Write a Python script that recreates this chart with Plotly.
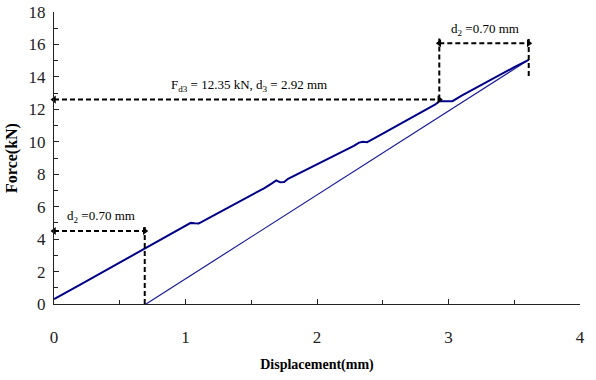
import plotly.graph_objects as go

# Loading curve (displacement mm, force kN)
load_x = [0.0, 0.05, 0.1, 0.2, 0.3, 0.4, 0.5, 0.6, 0.7, 0.8, 0.9, 1.0, 1.04, 1.07, 1.1, 1.12,
          1.2, 1.3, 1.4, 1.5, 1.6, 1.66, 1.69, 1.72, 1.75, 1.78, 1.9, 2.0, 2.1, 2.2, 2.28,
          2.32, 2.35, 2.38, 2.4, 2.5, 2.6, 2.7, 2.8, 2.9, 2.93, 2.98, 3.03, 3.1, 3.2, 3.3,
          3.4, 3.5, 3.61]
load_y = [0.3, 0.55, 0.75, 1.2, 1.65, 2.1, 2.55, 3.0, 3.45, 3.9, 4.35, 4.8, 5.0, 4.98, 4.97, 5.05,
          5.4, 5.8, 6.25, 6.7, 7.15, 7.45, 7.62, 7.5, 7.52, 7.72, 8.2, 8.6, 9.0, 9.4, 9.75,
          9.95, 10.0, 9.97, 10.05, 10.5, 10.95, 11.4, 11.85, 12.3, 12.5, 12.5, 12.5, 12.85, 13.3, 13.75,
          14.2, 14.6, 15.05]

# Unloading line
unload_x = [0.70, 3.61]
unload_y = [0.0, 15.05]

x_ticks = [0, 1, 2, 3, 4]
y_ticks = [0, 2, 4, 6, 8, 10, 12, 14, 16, 18]

FONT = "Liberation Serif"
DASH = "5px,3px"

fig = go.Figure()
fig.add_trace(go.Scatter(x=unload_x, y=unload_y, mode="lines",
                         line=dict(color="#1a1a9a", width=1.2), hoverinfo="skip"))
fig.add_trace(go.Scatter(x=load_x, y=load_y, mode="lines",
                         line=dict(color="#000088", width=2), hoverinfo="skip"))

# Dimension lines (dashed) with arrowheads
def hline(x0, x1, y):
    fig.add_trace(go.Scatter(x=[x0, x1], y=[y, y], mode="lines",
                             line=dict(color="black", width=2, dash=DASH), hoverinfo="skip"))
    fig.add_trace(go.Scatter(x=[x0, x1], y=[y, y], mode="markers",
                             marker=dict(symbol=["triangle-left", "triangle-right"], size=7,
                                         color="black"), hoverinfo="skip", cliponaxis=False))

def vline(x, y0, y1):
    fig.add_trace(go.Scatter(x=[x, x], y=[y0, y1], mode="lines",
                             line=dict(color="black", width=2, dash=DASH), hoverinfo="skip"))

hline(0.0, 0.69, 4.5)
vline(0.69, 0.0, 4.85)
hline(0.0, 2.93, 12.6)
vline(2.93, 12.6, 16.45)
hline(2.93, 3.61, 16.07)
vline(3.61, 14.05, 16.45)

ann_font = dict(family=FONT, size=13, color="black")
fig.add_annotation(x=0.36, y=5.4, text="d<sub>2</sub> =0.70 mm", showarrow=False, font=ann_font)
fig.add_annotation(x=1.48, y=13.45, text="F<sub>d3</sub> = 12.35 kN, d<sub>3</sub> = 2.92 mm",
                   showarrow=False, font=ann_font)
fig.add_annotation(x=3.28, y=16.9, text="d<sub>2</sub> =0.70 mm", showarrow=False, font=ann_font)

fig.update_layout(
    width=596, height=380,
    margin=dict(l=54, r=16, t=12, b=76),
    paper_bgcolor="white", plot_bgcolor="white",
    showlegend=False,
    font=dict(family=FONT, color="black"),
)
fig.update_xaxes(range=[0, 4], tickvals=x_ticks, ticks="inside", ticklen=5, tickwidth=1,
                 tickcolor="#222", showline=True, linecolor="#222", linewidth=1,
                 showgrid=False, zeroline=False, ticklabelstandoff=18, automargin=False,
                 tickfont=dict(family=FONT, size=17, color="#222"),
                 minor=dict(dtick=0.5, ticks="inside", ticklen=4, tickcolor="#222"),
                 title=dict(text="<b>Displacement(mm)</b>", font=dict(family=FONT, size=14),
                            standoff=12))
fig.update_yaxes(range=[0, 18], tickvals=y_ticks, ticks="inside", ticklen=5, tickwidth=1,
                 tickcolor="#222", showline=True, linecolor="#222", linewidth=1,
                 showgrid=False, zeroline=False, ticklabelstandoff=4, automargin=False,
                 tickfont=dict(family=FONT, size=17, color="#222"),
                 minor=dict(dtick=1, ticks="inside", ticklen=4, tickcolor="#222"),
                 title=dict(text="<b>Force(kN)</b>", font=dict(family=FONT, size=16),
                            standoff=6))

fig.write_html("out.html", config={"displayModeBar": False},
               post_script="document.body.style.margin='0';")
